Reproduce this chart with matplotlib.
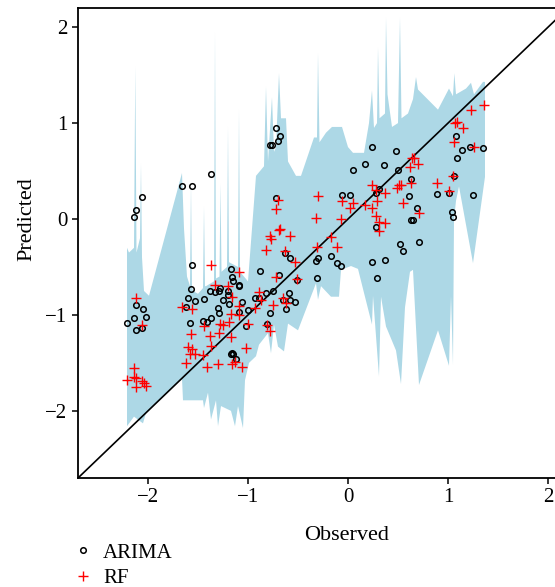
import matplotlib
matplotlib.use("Agg")
import matplotlib.pyplot as plt
import numpy as np

plt.rcParams['font.family'] = ['Liberation Serif', 'DejaVu Serif']

# ARIMA predictions vs observed
arima_obs = [-2.21, -2.14, -2.12, -2.06, -2.12, -2.05, -2.02, -2.14, -2.12, -2.06,
             -1.66, -1.56, -1.37, -1.56, -1.17, -1.16, -1.15, -1.09, -1.28, -1.57,
             -1.38, -1.33, -1.29, -1.20, -1.20, -1.60, -1.53, -1.44, -1.25, -1.19,
             -1.62, -1.30, -1.29, -1.58, -1.45, -1.41, -1.37, -1.17, -1.15, -1.16,
             -1.12, -1.09,
             -0.72, -0.68, -0.70, -0.78, -0.76, -0.72, -0.63, -0.58, -0.88, -0.69,
             -0.51, -0.75, -0.59, -0.93, -0.89, -0.82, -0.65, -0.58, -0.53, -0.62,
             -0.78, -1.06, -1.00, -0.81, -1.02, -1.09,
             -0.31, -0.32, -0.30, -0.17, -0.11, -0.07, -0.06, 0.02,
             0.24, 0.48, 0.17, 0.36, 0.05, 0.50, 0.63, 0.28, 0.31, 0.61,
             0.69, 0.63, 0.65, 0.28, 0.52, 0.55, 0.71, 0.24, 0.37, 0.29,
             1.08, 1.14, 1.22, 1.35, 1.09, 1.06, 0.89, 1.01, 1.25, 1.04, 1.05]
arima_pred = [-1.08, 0.02, 0.09, 0.23, -0.90, -0.94, -1.02, -1.03, -1.16, -1.14,
              0.34, 0.34, 0.47, -0.48, -0.52, -0.60, -0.65, -0.69, -0.72, -0.73,
              -0.75, -0.76, -0.75, -0.75, -0.79, -0.82, -0.85, -0.83, -0.84, -0.89,
              -0.92, -0.93, -0.98, -1.08, -1.06, -1.07, -1.03, -1.41, -1.41, -1.40,
              -1.46, -0.97,
              0.95, 0.87, 0.81, 0.77, 0.77, 0.22, -0.35, -0.41, -0.54, -0.58,
              -0.64, -0.75, -0.77, -0.82, -0.82, -0.77, -0.84, -0.84, -0.86, -0.94,
              -0.98, -0.87, -0.95, -1.09, -1.12, -0.70,
              -0.61, -0.44, -0.41, -0.39, -0.46, -0.49, 0.25, 0.25,
              0.75, 0.71, 0.57, 0.56, 0.51, 0.51, 0.42, 0.27, 0.31, 0.24,
              0.11, -0.01, -0.01, -0.08, -0.26, -0.33, -0.24, -0.45, -0.43, -0.62,
              0.87, 0.72, 0.75, 0.74, 0.64, 0.45, 0.26, 0.27, 0.25, 0.07, 0.02]

# RF predictions vs observed
rf_obs = [-2.12, -2.06, -2.14, -2.14, -2.12, -2.21, -2.06, -2.04, -2.02, -2.12,
          -1.37, -1.66, -1.56, -1.57, -1.60, -1.56, -1.58, -1.53, -1.62, -1.45,
          -1.41, -1.38, -1.37, -1.44, -1.29, -1.28, -1.25, -1.30, -1.33, -1.20,
          -1.16, -1.17, -1.19, -1.17, -1.16, -1.13, -1.09, -1.09, -1.09,
          -0.70, -0.72, -0.69, -0.68, -0.78, -0.77, -0.58, -0.82, -0.63, -0.53,
          -0.72, -0.51, -0.89, -0.87, -0.93, -0.75, -0.65, -0.62, -1.00, -0.81,
          -0.78, -1.02, -1.06,
          -0.30, -0.32, -0.31, -0.17, -0.11, -0.07, -0.06, 0.02,
          1.36, 1.23, 1.07, 1.09, 1.15, 1.06, 1.26, 0.64, 0.66, 0.62,
          0.70, 0.24, 0.28, 0.37, 0.49, 0.51, 0.53, 0.63, 0.89, 1.05,
          1.01, 0.05, 0.17, 0.24, 0.29, 0.28, 0.31, 0.37, 0.31, 0.55, 0.71]
rf_pred = [-0.82, -1.10, -1.55, -1.65, -1.66, -1.68, -1.69, -1.71, -1.74, -1.75,
           -0.48, -0.92, -0.94, -1.20, -1.33, -1.35, -1.41, -1.41, -1.50, -1.42,
           -1.54, -1.22, -1.32, -1.12, -1.19, -1.09, -1.11, -1.51, -0.69, -0.70,
           -0.81, -0.99, -1.07, -1.23, -1.51, -1.49, -0.55, -0.91, -1.00,
           0.20, 0.10, -0.11, -0.10, -0.18, -0.21, -0.18, -0.32, -0.33, -0.45,
           -0.60, -0.63, -0.76, -0.84, -0.93, -0.90, -0.82, -0.88, -1.09, -1.11,
           -1.17, -1.34, -1.54,
           0.24, 0.01, -0.29, -0.19, -0.29, 0.00, 0.19, 0.11,
           1.19, 1.14, 1.00, 1.01, 0.95, 0.80, 0.75, 0.64, 0.64, 0.54,
           0.57, 0.35, 0.30, 0.27, 0.32, 0.35, 0.35, 0.38, 0.38, 0.45,
           0.29, 0.17, 0.15, 0.11, 0.19, 0.03, -0.03, -0.04, -0.13, 0.17, 0.06]

# prediction interval band: upper and lower edges
band_up_x = [-2.21, -2.19, -2.14, -2.127, -2.115, -2.08, -2.07, -2.06, -2.04, -1.99,
             -1.66, -1.64, -1.61, -1.58, -1.57, -1.56, -1.55, -1.50, -1.45, -1.44,
             -1.43, -1.42, -1.34, -1.33, -1.32, -1.285, -1.275, -1.265, -1.21, -1.20,
             -1.19, -1.10, -1.09, -1.08, -1.00, -0.92, -0.84, -0.82, -0.80, -0.76,
             -0.74, -0.72, -0.69, -0.67, -0.62, -0.60, -0.52, -0.47, -0.34, -0.31,
             -0.30, -0.285, -0.22, -0.16, -0.06, 0.00, 0.05, 0.16, 0.21, 0.24,
             0.26, 0.29, 0.30, 0.315, 0.37, 0.38, 0.395, 0.44, 0.50, 0.52,
             0.535, 0.60, 0.65, 0.68, 0.70, 0.90, 1.01, 1.05, 1.063, 1.08,
             1.18, 1.23, 1.26, 1.35, 1.37]
band_up_y = [-0.30, -0.35, -0.30, 1.59, -0.35, -0.20, 0.58, -0.40, -0.75, -0.80,
             0.48, -0.10, -0.60, -0.70, 0.37, -0.70, -0.75, -0.78, -0.72, 0.13,
             -0.70, -0.70, -0.65, 1.94, -0.62, -0.60, 0.37, -0.55, -0.50, 0.96,
             -0.45, -0.50, 1.14, -0.55, -0.65, 0.45, 0.55, 1.38, 0.60, 1.27,
             0.70, 0.75, 1.52, 1.05, 1.05, 0.60, 0.45, 0.45, 0.85, 0.85,
             1.73, 0.80, 0.90, 0.96, 0.96, 0.75, 0.69, 0.69, 1.00, 1.34,
             0.95, 1.00, 1.79, 1.05, 1.10, 2.10, 1.30, 0.96, 1.00, 2.10,
             1.05, 1.10, 1.25, 1.48, 1.35, 1.14, 1.36, 1.28, 1.52, 1.30,
             1.36, 1.42, 1.30, 1.43, 1.43]
band_lo_x = [-2.21, -2.14, -2.09, -2.05, -2.02, -1.66, -1.65, -1.45, -1.44, -1.40,
             -1.37, -1.32, -1.30, -1.27, -1.17, -1.13, -1.10, -1.05, -1.03, -0.99,
             -0.92, -0.89, -0.80, -0.77, -0.74, -0.70, -0.64, -0.60, -0.50, -0.32,
             -0.30, -0.27, -0.17, -0.09, -0.07, 0.03, 0.10, 0.16, 0.24, 0.25,
             0.31, 0.33, 0.38, 0.48, 0.53, 0.57, 0.62, 0.65, 0.71, 0.90,
             1.01, 1.03, 1.05, 1.06, 1.08, 1.11, 1.25, 1.37]
band_lo_y = [-2.16, -2.06, -2.10, -2.13, -2.02, -1.66, -1.89, -1.89, -1.97, -1.81,
             -2.09, -1.89, -2.16, -1.95, -2.00, -2.16, -1.95, -2.18, -1.68, -1.50,
             -1.43, -1.31, -1.19, -1.40, -1.10, -1.33, -1.38, -1.09, -1.16, -0.67,
             -0.84, -0.70, -0.81, -0.81, -0.53, -0.49, -0.52, -0.77, -1.10, -0.80,
             -1.64, -0.81, -1.12, -1.37, -1.72, -0.92, -0.55, -0.53, -1.73, -1.16,
             -1.53, -0.80, -1.52, -0.01, 0.19, 0.34, -0.46, 0.44]

lims = [-2.7, 2.2]

fig = plt.figure(figsize=(5.55, 5.87), dpi=100)
ax = fig.add_axes([78/555, 109/587, 490/555, 470/587])

ax.fill(np.r_[band_up_x, band_lo_x[::-1]], np.r_[band_up_y, band_lo_y[::-1]],
        color='lightblue', lw=0, zorder=1)
ax.plot(lims, lims, color='k', lw=1.2, zorder=2)
ax.plot(arima_obs, arima_pred, 'o', mfc='none', mec='k', ms=4, mew=1.1,
        label='ARIMA', zorder=3)
ax.plot(rf_obs, rf_pred, '+', color='red', ms=7, mew=1.0, label='RF', zorder=3)

ax.set_xlim(lims)
ax.set_ylim(lims)
ax.set_xticks([-2, -1, 0, 1, 2])
ax.set_yticks([-2, -1, 0, 1, 2])
ax.tick_params(direction='out', length=4, width=1.1, labelsize=15)
for s in ax.spines.values():
    s.set_linewidth(1.3)

ax.set_xlabel('Observed', fontsize=16)
ax.set_ylabel('Predicted', fontsize=16)
ax.xaxis.set_label_coords(0.549, -0.102)
ax.yaxis.set_label_coords(-0.085, 0.551)

fig.legend(loc='upper left', bbox_to_anchor=(0.131, 0.075), frameon=False,
           fontsize=15, handlelength=1.0, handletextpad=0.45, labelspacing=0.3,
           borderpad=0, borderaxespad=0)

fig.savefig('out.png', dpi=100)
